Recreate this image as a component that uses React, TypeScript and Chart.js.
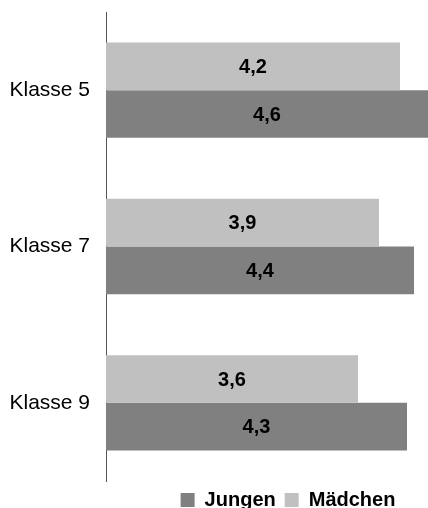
import React, { useEffect, useRef } from "react";
import { Chart, registerables } from "chart.js";

Chart.register(...registerables);

const categories = ["Klasse 5", "Klasse 7", "Klasse 9"];
const maedchen = [4.2, 3.9, 3.6];
const jungen = [4.6, 4.4, 4.3];
const seriesNames = ["Mädchen", "Jungen"];

const valueLabels = {
  id: "valueLabels",
  afterDatasetsDraw(chart: any) {
    const ctx = chart.ctx;
    ctx.save();
    ctx.font = "bold 20px 'Liberation Sans', Arial, sans-serif";
    ctx.fillStyle = "#000";
    ctx.textAlign = "center";
    ctx.textBaseline = "middle";
    chart.data.datasets.forEach((ds: any, i: number) => {
      const meta = chart.getDatasetMeta(i);
      meta.data.forEach((bar: any, j: number) => {
        const v = ds.data[j];
        const txt = v.toFixed(1).replace(".", ",");
        ctx.fillText(txt, (bar.x + bar.base) / 2, bar.y + 1);
      });
    });
    ctx.restore();
  },
};

const legendShift = {
  id: "legendShift",
  afterLayout(chart: any) {
    const l = chart.legend;
    if (l) {
      l.left += 21;
      l.right += 21;
    }
  },
};

export default function App() {
  const ref = useRef<HTMLCanvasElement>(null);
  useEffect(() => {
    if (!ref.current) return;
    const chart = new Chart(ref.current, {
      type: "bar",
      data: {
        labels: categories,
        datasets: [
          {
            label: seriesNames[0],
            data: maedchen,
            backgroundColor: "#c0c0c0",
            categoryPercentage: 0.61,
            barPercentage: 1,
          },
          {
            label: seriesNames[1],
            data: jungen,
            backgroundColor: "#808080",
            categoryPercentage: 0.61,
            barPercentage: 1,
          },
        ],
      },
      options: {
        indexAxis: "y",
        animation: false,
        responsive: true,
        maintainAspectRatio: false,
        layout: { padding: { top: 12, right: 0, left: 0, bottom: 0 } },
        scales: {
          x: {
            display: false,
            min: 0,
            max: 4.6,
          },
          y: {
            grid: { display: false, drawTicks: false },
            border: { display: true, color: "#555", width: 1 },
            ticks: {
              color: "#000",
              padding: 16,
              font: { family: "'Liberation Sans', Arial, sans-serif", size: 21 },
            },
            afterFit(scale: any) {
              scale.width = 106;
              scale.paddingTop = 0;
              scale.paddingBottom = 0;
            },
          },
        },
        plugins: {
          tooltip: { enabled: false },
          legend: {
            position: "bottom",
            fullSize: false,
            reverse: true,
            labels: {
              boxWidth: 14,
              boxHeight: 14,
              padding: 9,
              color: "#000",
              font: { family: "'Liberation Sans', Arial, sans-serif", size: 20, weight: "bold" },
            },
          },
        },
      },
      plugins: [valueLabels, legendShift],
    });
    return () => chart.destroy();
  }, []);
  return (
    <div style={{ position: "absolute", left: 0, top: 0, width: 428, height: 520 }}>
      <canvas ref={ref} />
    </div>
  );
}
